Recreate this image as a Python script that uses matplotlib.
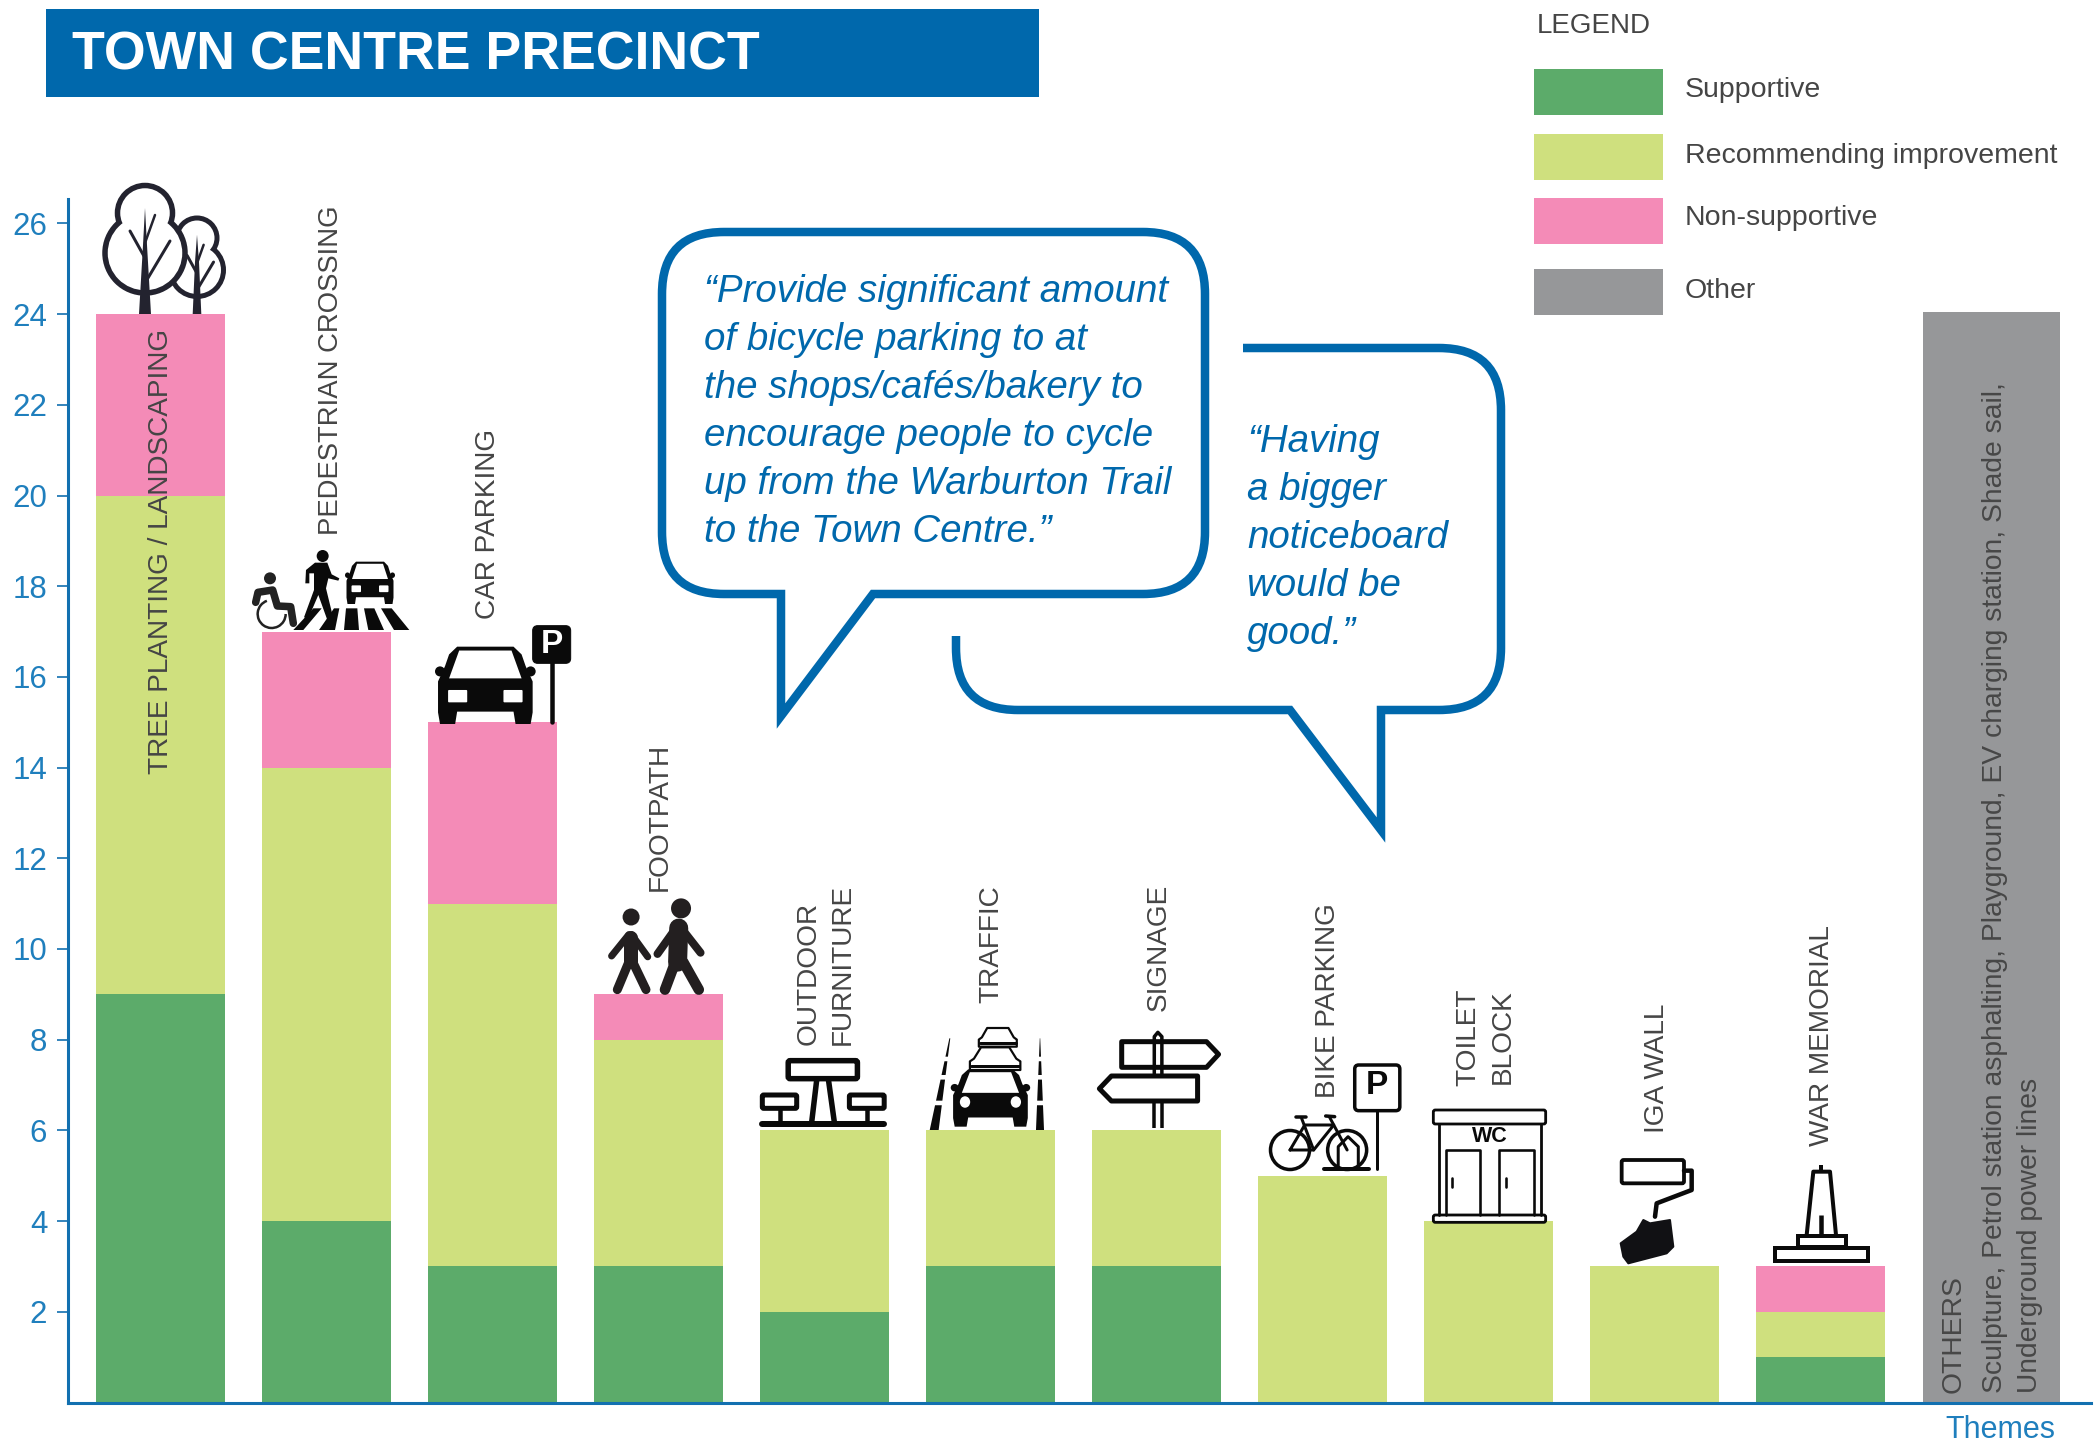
"""Town centre precinct: stacked theme counts with icons, quotes and legend."""
import matplotlib
matplotlib.use("Agg")
import matplotlib.pyplot as plt
import numpy as np
from matplotlib.patches import Arc, Circle, Ellipse, FancyBboxPatch, Polygon, Rectangle, PathPatch
from matplotlib.path import Path

plt.rcParams["font.family"] = ["Liberation Sans", "DejaVu Sans"]

TITLE = "TOWN CENTRE PRECINCT"
themes = ["TREE PLANTING / LANDSCAPING", "PEDESTRIAN CROSSING", "CAR PARKING", "FOOTPATH",
          "OUTDOOR\nFURNITURE", "TRAFFIC", "SIGNAGE", "BIKE PARKING", "TOILET\nBLOCK",
          "IGA WALL", "WAR MEMORIAL"]
supportive = [9, 4, 3, 3, 2, 3, 3, 0, 0, 0, 1]
recommending = [11, 10, 8, 5, 4, 3, 3, 5, 4, 3, 1]
non_supportive = [4, 3, 4, 1, 0, 0, 0, 0, 0, 0, 1]
other_total = 24.05
other_lines = ["OTHERS",
               "Sculpture, Petrol station asphalting, Playground, EV charging station, Shade sail,",
               "Underground power lines"]
yticks = list(range(2, 28, 2))
legend_labels = ["Supportive", "Recommending improvement", "Non-supportive", "Other"]
quote_one = ["\u201cProvide significant amount", "of bicycle parking to at",
             "the shops/caf\u00e9s/bakery to", "encourage people to cycle",
             "up from the Warburton Trail", "to the Town Centre.\u201d"]
quote_two = ["\u201cHaving", "a bigger", "noticeboard", "would be", "good.\u201d"]

BLUE = "#0068AC"
AXIS = "#1270B0"
TICK = "#1F7FBD"
GREEN = "#5CAB6A"
LIME = "#CFE07E"
PINK = "#F48BB7"
GREY = "#969799"
TEXT = "#454545"
INK = "#0A0A0A"
W, H = 2099, 1442

fig = plt.figure(figsize=(W / 100, H / 100), dpi=100)
ax = fig.add_axes([68 / W, (H - 1402.5) / H, (2091 - 68) / W, (1402.5 - 199) / H])
ax.set_xlim((68 - 160.5) / 166, (2091 - 160.5) / 166)
ax.set_ylim(0, (1402.5 - 199) / 45.35)

x = np.arange(len(themes))
sup = np.array(supportive)
rec = np.array(recommending)
non = np.array(non_supportive)
ax.bar(x, sup, width=0.775, color=GREEN, linewidth=0)
ax.bar(x, rec, width=0.775, bottom=sup, color=LIME, linewidth=0)
ax.bar(x, non, width=0.775, bottom=sup + rec, color=PINK, linewidth=0)
ax.bar([len(themes) + 0.03], [other_total], width=0.825, color=GREY, linewidth=0)

for side in ("top", "right"):
    ax.spines[side].set_visible(False)
for side in ("left", "bottom"):
    ax.spines[side].set_color(AXIS)
    ax.spines[side].set_linewidth(2.2)
ax.set_xticks([])
ax.set_yticks(yticks)
ax.tick_params(axis="y", length=8, width=1.2, color=AXIS, labelcolor=TICK, labelsize=22.5, pad=7)

# everything else is annotation, placed in picture pixels
ov = fig.add_axes([0, 0, 1, 1], zorder=5)
ov.set_xlim(0, W)
ov.set_ylim(H, 0)
ov.axis("off")
ov.patch.set_alpha(0)


def px(v):
    return v * 0.72


def mapper(ox, oy, sx, sy):
    return lambda pts: [(ox + a / sx, oy + b / sy) for a, b in pts]


def line(pts, w, color=INK, cap="round"):
    xs, ys = zip(*pts)
    ov.plot(xs, ys, color=color, lw=px(w), solid_capstyle=cap, solid_joinstyle="round")


def poly(pts, fc=INK, ec="none", w=0):
    ov.add_patch(Polygon(pts, closed=True, fc=fc, ec=ec, lw=px(w), joinstyle="round"))


def rrect(x0, y0, x1, y1, r=3, fc="white", ec=INK, w=3):
    ov.add_patch(FancyBboxPatch((x0, y0), x1 - x0, y1 - y0, boxstyle=f"round,pad=0,rounding_size={r}",
                                fc=fc, ec=ec, lw=px(w)))


def car_front(x0, y0, w, h, round_lights=False):
    m = lambda pts: [(x0 + a * w, y0 + b * h) for a, b in pts]
    poly(m([(.22, 0), (.78, 0), (.86, .1), (.9, .25), (.97, .45), (.97, .85), (.95, 1), (.8, 1), (.78, .84),
            (.22, .84), (.2, 1), (.05, 1), (.03, .85), (.03, .45), (.1, .25), (.14, .1)]))
    for u in (.05, .95):
        ov.add_patch(Ellipse((x0 + u * w, y0 + .32 * h), .1 * w, .13 * h, fc=INK, ec="none"))
    poly(m([(.24, .05), (.76, .05), (.86, .41), (.14, .41)]), fc="white")
    if round_lights:
        for u in (.18, .82):
            ov.add_patch(Ellipse((x0 + u * w, y0 + .57 * h), .13 * w, .2 * h, fc="white", ec="none"))
    else:
        for u0, u1 in ((.13, .32), (.68, .87)):
            rrect(x0 + u0 * w, y0 + .56 * h, x0 + u1 * w, y0 + .72 * h, r=1, ec="none", w=0)


def vtext(cx, bottom, s, size=20.2, color=TEXT):
    ov.text(cx, bottom, s, rotation=90, ha="center", va="bottom", fontsize=size, color=color,
            rotation_mode="default")


# banner
ov.add_patch(Rectangle((46, 9), 993, 88, fc=BLUE, ec="none"))
ov.text(72, 70, TITLE, color="white", fontsize=38.6, fontweight="bold", va="baseline")

# legend
ov.text(1537, 33, "LEGEND", fontsize=20, color=TEXT, va="baseline")
for (y0, y1), col, lab, base in zip([(69, 115), (134, 180), (198, 244), (269, 315)],
                                    [GREEN, LIME, PINK, GREY], legend_labels, [97, 163, 225, 298]):
    ov.add_patch(Rectangle((1534, y0), 129, y1 - y0, fc=col, ec="none"))
    ov.text(1685, base, lab, fontsize=20.5, color=TEXT, va="baseline")

# bar labels
for cx, bottom, s in [(161, 774, themes[0]), (331, 535, themes[1]), (488, 619, themes[2]),
                      (660, 891, themes[3]), (809, 1045, "OUTDOOR"), (843, 1045, "FURNITURE"),
                      (991, 1003, themes[5]), (1159, 1011, themes[6]), (1328, 1098, themes[7]),
                      (1468, 1086, "TOILET"), (1503, 1084, "BLOCK"), (1657, 1133, themes[9]),
                      (1822, 1146, themes[10])]:
    vtext(cx, bottom, s, size=19.8 if s == themes[1] else 20.2)
for cx, s in zip((1954, 1995, 2030), other_lines):
    vtext(cx, 1393, s, size=20.35, color="#474747")
ov.text(2000, 1438, "Themes", fontsize=22, color=TICK, ha="center", va="baseline")

# speech bubbles
Q = Path.CURVE3
def bubble(verts, codes):
    ov.add_patch(PathPatch(Path(verts, codes), fc="none", ec=BLUE, lw=px(8.5), joinstyle="miter", capstyle="butt"))

L, R_, T_, B = 662, 1205, 232, 594
r = 62
bubble([(781, B), (781, 716), (873, B), (R_ - r, B), (R_, B), (R_, B - r), (R_, T_ + r), (R_, T_), (R_ - r, T_),
        (L + r, T_), (L, T_), (L, T_ + r), (L, B - r), (L, B), (L + r, B), (781, B)],
       [Path.MOVETO, Path.LINETO, Path.LINETO, Path.LINETO, Q, Q, Path.LINETO, Q, Q, Path.LINETO, Q, Q,
        Path.LINETO, Q, Q, Path.CLOSEPOLY])
L, R_, T_, B = 956, 1501, 348, 710
r = 62
bubble([(1243, T_), (R_ - r, T_), (R_, T_), (R_, T_ + r), (R_, B - r), (R_, B), (R_ - r, B), (1381, B), (1381, 830),
        (1290, B), (L + r, B), (L, B), (L, B - r), (L, 636)],
       [Path.MOVETO, Path.LINETO, Q, Q, Path.LINETO, Q, Q, Path.LINETO, Path.LINETO, Path.LINETO, Path.LINETO, Q, Q,
        Path.LINETO])
for i, s in enumerate(quote_one):
    ov.text(704, 302 + i * 47.9, s, fontsize=27.7, style="italic", color=BLUE, va="baseline")
for i, s in enumerate(quote_two):
    ov.text(1247, 452 + i * 47.9, s, fontsize=27.7, style="italic", color=BLUE, va="baseline")

# trees
TREE = "#23232F"
for cx, top_y, top_r, low_y, low_r, w in [(197, 238, 20, 270, 26.5, 5), (145, 213, 27.5, 253, 40, 5.5)]:
    for cy, rad in ((top_y, top_r), (low_y, low_r)):
        ov.add_patch(Circle((cx, cy), rad, fc=TREE, ec=TREE, lw=px(w)))
    for cy, rad in ((top_y, top_r), (low_y, low_r)):
        ov.add_patch(Circle((cx, cy), rad - w / 2, fc="white", ec="none"))
    scale = low_r / 40
    base = 314
    poly([(cx - 5 * scale - 1, base), (cx + 5 * scale + 1, base), (cx + 2, low_y - 8), (cx, top_y - 5 * scale),
          (cx - 2, low_y - 8)], fc=TREE)
    line([(cx, low_y + 30 * scale), (cx + 25 * scale, low_y - 12 * scale)], 3, TREE)
    line([(cx, low_y + 5 * scale), (cx - 15 * scale, low_y - 22 * scale)], 3, TREE)
    line([(cx, low_y - 10 * scale), (cx + 10 * scale, low_y - 38 * scale)], 2.5, TREE)

# pedestrian crossing
m = mapper(240, 530, 3, 3)
for pts in ([(220, 235), (245, 235), (190, 300), (160, 300)], [(282, 235), (298, 235), (285, 300), (237, 300)],
            [(318, 235), (352, 235), (357, 300), (312, 300)], [(372, 235), (403, 235), (432, 300), (385, 300)],
            [(423, 235), (455, 235), (508, 300), (462, 300)]):
    poly(m(pts))
ov.add_patch(Circle(m([(90, 145)])[0], 6, fc="#222222", ec="none"))
line(m([(47, 217), (54, 187), (98, 180), (112, 228), (152, 230), (160, 280)]), 7.5, "#222222")
ov.add_patch(Arc(m([(95, 252)])[0], 28, 28, angle=0, theta1=0, theta2=250, ec="#222222", lw=px(2.5)))
ov.add_patch(Circle(m([(248, 78)])[0], 6, fc=INK, ec="none"))
poly(m([(225, 98), (262, 98), (275, 133), (298, 145), (295, 152), (265, 145), (258, 175), (280, 265), (262, 270),
        (235, 195), (205, 265), (192, 262), (222, 180), (222, 130), (208, 130), (208, 160), (196, 160), (198, 120)]))
car_front(240 + 315 / 3, 530 + 95 / 3, 150 / 3, 127 / 3)

# car parking
car_front(240 + 585 / 3, 530 + 350 / 3, 302 / 3, 232 / 3)
rrect(240 + 878 / 3, 530 + 287 / 3, 240 + 992 / 3, 530 + 400 / 3, r=5, fc=INK, ec=INK, w=1)
ov.text(240 + 935 / 3, 530 + 344 / 3, "P", color="white", fontsize=24, fontweight="bold", ha="center", va="center")
line(m([(935, 400), (935, 575)]), 4.5)

# footpath
m = mapper(580, 800, 1.742, 2.436)
ink2 = "#231F20"
ov.add_patch(Ellipse(m([(89, 285)])[0], 17, 17, fc=ink2, ec="none"))
ov.add_patch(Ellipse(m([(176, 264)])[0], 20, 20, fc=ink2, ec="none"))
line(m([(88, 335), (88, 395)]), 14, ink2)
line(m([(85, 328), (55, 380)]), 7, ink2)
line(m([(90, 328), (118, 382)]), 7, ink2)
line(m([(85, 395), (65, 462)]), 9, ink2)
line(m([(92, 395), (115, 462)]), 9, ink2)
line(m([(172, 312), (170, 395)]), 19, ink2)
line(m([(162, 322), (135, 375)]), 8, ink2)
line(m([(182, 322), (210, 372)]), 8, ink2)
line(m([(166, 395), (148, 462)]), 10.5, ink2)
line(m([(180, 395), (207, 462)]), 10.5, ink2)

# outdoor furniture, traffic, signage, bike
m = mapper(740, 1000, 2.24, 3)
(a, b), (c, d) = m([(108, 182), (263, 236)])
rrect(a, b, c, d, r=2, w=5.5)
line(m([(172, 238), (160, 373)]), 5.5, cap="butt")
line(m([(198, 238), (212, 373)]), 5.5, cap="butt")
for u0, u1 in ((50, 127), (245, 323)):
    (a, b), (c, d) = m([(u0, 285), (u1, 325)])
    rrect(a, b, c, d, r=1.5, w=5)
    line(m([((u0 + u1) / 2, 325), ((u0 + u1) / 2, 373)]), 4.5, cap="butt")
line(m([(50, 373), (323, 373)]), 6)

for (u0, v0, u1, v1) in ((535, 84, 620, 140), (515, 142, 628, 210)):
    (a, b), (c, d) = m([(u0, v0), (u1, v1)])
    poly([(a + .22 * (c - a), b), (a + .78 * (c - a), b), (c - .08 * (c - a), b + .5 * (d - b)), (c, b + .62 * (d - b)),
          (c, d), (a, d), (a, b + .62 * (d - b)), (a + .08 * (c - a), b + .5 * (d - b))],
         fc="white", ec=INK, w=2.2)
    line([(a + 1, b + .82 * (d - b)), (c - 1, b + .82 * (d - b))], 3)
(a, b), (c, d) = m([(472, 208), (650, 380)])
car_front(a, b, c - a, d - b, round_lights=True)
for (top, bot, wt, wb) in (((470, 115), (435, 390), 2, 20), ((672, 115), (672, 390), 1, 18)):
    for t0, t1 in ((0, .2), (.25, .4), (.45, .68), (.73, 1)):
        xa = top[0] + (bot[0] - top[0]) * t0
        xb = top[0] + (bot[0] - top[0]) * t1
        ya = top[1] + (bot[1] - top[1]) * t0
        yb = top[1] + (bot[1] - top[1]) * t1
        ha = (wt + (wb - wt) * t0) / 2
        hb = (wt + (wb - wt) * t1) / 2
        poly(m([(xa - ha, ya), (xa + ha, ya), (xb + hb, yb), (xb - hb, yb)]))

line(m([(928, 302), (928, 385)]), 3.5, cap="butt")
line(m([(945, 302), (945, 385)]), 3.5, cap="butt")
line(m([(928, 225), (928, 110), (936, 97), (945, 110), (945, 225)]), 3.5)
poly(m([(855, 125), (1045, 125), (1072, 163), (1045, 202), (855, 202)]), fc="white", ec=INK, w=5)
poly(m([(1025, 228), (832, 228), (805, 266), (832, 303), (1025, 303)]), fc="white", ec=INK, w=5)

for u in (1232, 1360):
    ov.add_patch(Circle(m([(u, 450)])[0], 19.5, fc="none", ec=INK, lw=px(3.5)))
line(m([(1232, 450), (1265, 375), (1330, 375), (1285, 450), (1232, 450)]), 3)
line(m([(1258, 355), (1285, 450)]), 3)
line(m([(1320, 350), (1360, 450)]), 3)
line(m([(1245, 352), (1268, 352)]), 3.5)
line(m([(1312, 348), (1332, 350)]), 3.5)
line(m([(1340, 505), (1340, 440), (1362, 410), (1385, 440), (1385, 505)]), 3)
line(m([(1308, 507), (1408, 507)]), 4)
(a, b), (c, d) = m([(1377, 195), (1478, 332)])
rrect(a, b, c, d, r=4, w=3.5)
ov.text((a + c) / 2, (b + d) / 2 - 2, "P", color=INK, fontsize=24, fontweight="bold", ha="center", va="center")
line(m([(1426, 332), (1426, 507)]), 3)

# toilet block, roller, memorial
m = mapper(1380, 960, 3, 3)
line(m([(177, 492), (177, 765)]), 2.8)
line(m([(482, 492), (482, 765)]), 2.8)
for u0, u1 in ((197, 300), (358, 463)):
    line(m([(u0, 765), (u0, 570), (u1, 570), (u1, 765)]), 2.6)
    line(m([(u0 + 20, 655), (u0 + 20, 680)]), 2.6)
(a, b), (c, d) = m([(160, 450), (497, 492)])
rrect(a, b, c, d, r=2, w=2.8)
(a, b), (c, d) = m([(160, 765), (497, 787)])
rrect(a, b, c, d, r=2, w=2.8)
(a, b) = m([(330, 531)])[0]
ov.text(a, b, "WC", fontsize=15.5, fontweight="bold", color=INK, ha="center", va="center")

(a, b), (c, d) = m([(725, 600), (912, 670)])
rrect(a, b, c, d, r=2, w=3.8)
line(m([(912, 632), (935, 632), (935, 690), (830, 730), (825, 770)]), 4.5)
poly(m([(722, 850), (770, 815), (790, 780), (810, 790), (870, 780), (880, 860), (860, 880), (745, 910), (730, 890)]),
     fc="#111114", ec="#111114", w=2)

line(m([(1280, 825), (1300, 635), (1350, 635), (1368, 825)]), 4, cap="butt")
line(m([(1323, 615), (1323, 635)]), 4, cap="butt")
line(m([(1323, 765), (1323, 825)]), 4.5, cap="butt")
ov.add_patch(Rectangle(m([(1253, 827)])[0], 144 / 3, 33 / 3, fc="white", ec=INK, lw=px(4)))
ov.add_patch(Rectangle(m([(1185, 863)])[0], 280 / 3, 40 / 3, fc="white", ec=INK, lw=px(4)))

fig.savefig("out.png", dpi=100)
plt.close(fig)
